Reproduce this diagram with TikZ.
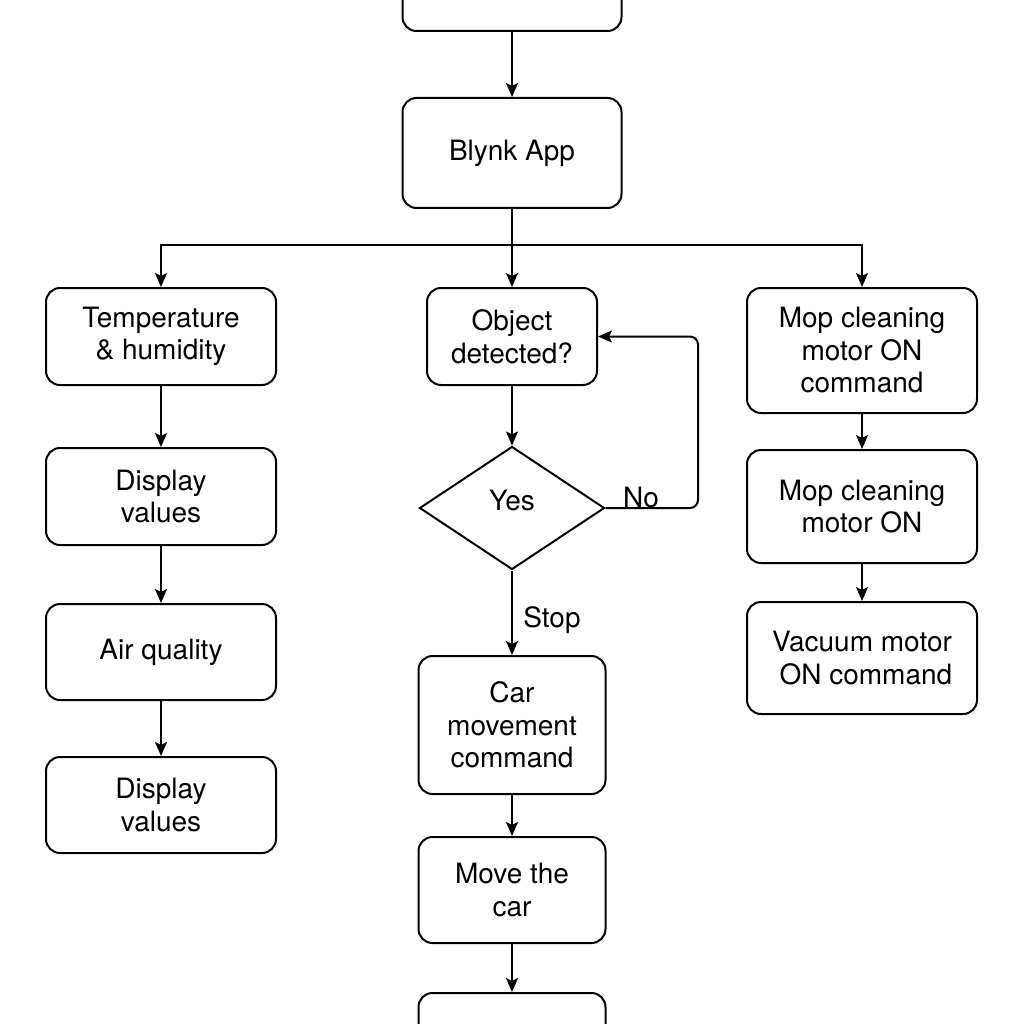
\documentclass[tikz,border=0pt]{standalone}
\usepackage{fontspec}
\setmainfont{TeX Gyre Heros}
\usetikzlibrary{shapes.geometric,arrows.meta}
\begin{document}
\begin{tikzpicture}[x=1pt,y=-1pt,
  box/.style={draw, line width=2pt, rounded corners=14pt, align=center, inner sep=0pt,
    font=\fontsize{28}{32.5}\selectfont},
  arr/.style={line width=2pt, -{Stealth[length=14pt,width=12pt,inset=3pt]}},
  lbl/.style={font=\fontsize{28}{32.5}\selectfont, inner sep=0pt}]
\useasboundingbox (0,0) rectangle (1024,1024);
\clip (0,0) rectangle (1024,1024);
\fill[white] (0,0) rectangle (1024,1024);
% centre column
\node[box, minimum width=219pt, minimum height=110pt] (top) at (512,-24) {};
\node[box, minimum width=219pt, minimum height=110pt] (blynk) at (512,153) {\raisebox{-4pt}{Blynk App}};
\node[box, minimum width=170pt, minimum height=97pt] (obj) at (512,336.5) {Object\\detected?};
\node[draw, line width=2pt, shape=diamond, minimum width=185pt, minimum height=123pt, inner sep=0pt] (dia) at (512,508) {};
\node[lbl] (yes) at (512,500) {Yes};
\node[box, minimum width=187pt, minimum height=138pt] (car) at (512,725) {Car\\movement\\command};
\node[box, minimum width=187pt, minimum height=106pt] (move) at (512,890) {Move the\\car};
\node[box, minimum width=187pt, minimum height=110pt] (bot) at (512,1048) {};
% left column
\node[box, minimum width=230pt, minimum height=97pt] (temp) at (161,336.5) {Temperature\\\& humidity};
\node[box, minimum width=230pt, minimum height=97pt] (disp1) at (161,496.5) {Display\\values};
\node[box, minimum width=230pt, minimum height=96pt] (air) at (161,652) {Air quality};
\node[box, minimum width=230pt, minimum height=96pt] (disp2) at (161,805) {Display\\values};
% right column
\node[box, minimum width=230pt, minimum height=125pt] (mop1) at (862,350.5) {Mop cleaning\\motor ON\\command};
\node[box, minimum width=230pt, minimum height=113pt] (mop2) at (862,506.5) {Mop cleaning\\motor ON};
\node[box, minimum width=230pt, minimum height=112pt] (vac) at (862,658) {Vacuum motor\\\ ON command};
% labels
\node[lbl] (no) at (641,497) {No};
\node[lbl] (stop) at (552,620) {Stop};
% connectors
\coordinate (br) at (512,245);
\coordinate (loop) at (698,420);
\draw[arr] (top) -- (blynk);
\draw[line width=2pt] (blynk.south) -- (br);
\draw[arr] (br) -- (obj.north);
\draw[arr] (br) -| (temp.north);
\draw[arr] (br) -| (mop1.north);
\draw[arr] (obj) -- (dia.north);
\draw[arr, rounded corners=8pt] (dia.east) -- (dia.east -| loop) |- (obj.east);
\draw[arr] (dia.south) -- (car.north);
\draw[arr] (car) -- (move);
\draw[arr] (move) -- (bot);
\draw[arr] (temp) -- (disp1);
\draw[arr] (disp1) -- (air);
\draw[arr] (air) -- (disp2);
\draw[arr] (mop1) -- (mop2);
\draw[arr] (mop2) -- (vac);
\end{tikzpicture}
\end{document}
